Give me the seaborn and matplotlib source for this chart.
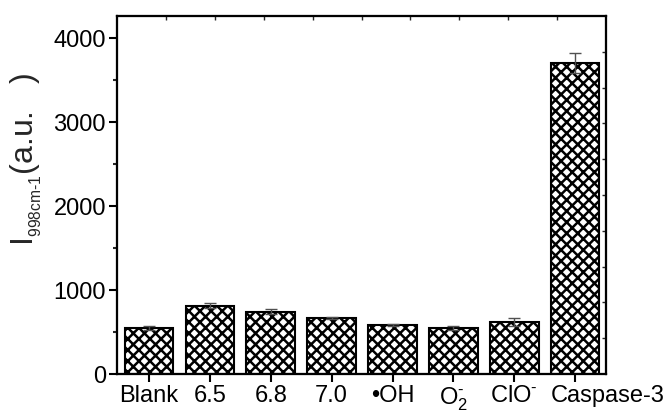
import numpy as np
import matplotlib
matplotlib.use("Agg")
import matplotlib.pyplot as plt
import matplotlib.transforms as mtransforms
import seaborn as sns

categories = ["Blank", "6.5", "6.8", "7.0", "\u2022OH", r"O$_\mathregular{2}^{\text{-}}$",
              r"ClO$^{\text{-}}$", "Caspase-3"]
intensity = [549, 816, 741, 667, 584, 549, 616, 3700]
errors = [27, 27, 28, 11, 12, 27, 47, 120]

sns.set_theme(style="ticks")
plt.rcParams["font.family"] = ["Liberation Sans", "DejaVu Sans"]
plt.rcParams["mathtext.fontset"] = "custom"
plt.rcParams["mathtext.rm"] = "Liberation Sans"
plt.rcParams["mathtext.it"] = "Liberation Sans:italic"
plt.rcParams["hatch.linewidth"] = 1.8
plt.rcParams["hatch.color"] = "black"

fig = plt.figure(figsize=(6.69, 4.12), dpi=100)
ax = fig.add_axes([0.175, 0.092, 0.731, 0.869])

x = np.arange(len(categories))
sns.barplot(x=x, y=intensity, ax=ax, color="white", edgecolor="black",
            linewidth=1.5, width=0.8, hatch="xxx")
ax.errorbar(x, intensity, yerr=errors, fmt="none", ecolor="#505050",
            elinewidth=1, capsize=4, capthick=1, zorder=5)

ax.set_xlim(-0.526, 7.51)
ax.set_ylim(0, 4262)
ax.set_yticks([0, 1000, 2000, 3000, 4000])
ax.set_yticks(np.arange(500, 4262, 1000), minor=True)
ax.set_xticks(x)
ax.set_xticklabels(categories)
ax.tick_params(axis="both", which="major", direction="out", length=6, width=1.5,
               labelsize=17, pad=2, colors="black")
ax.tick_params(axis="y", which="minor", direction="out", length=3, width=1.5)
# the last label sits to the right of its tick in the reference
lbls = ax.get_xticklabels()
lbls[-1].set_transform(lbls[-1].get_transform() +
                       mtransforms.ScaledTranslation(0.33, 0, fig.dpi_scale_trans))

ax.set_ylabel(r"I$_{_\mathregular{998cm\text{-}1}}$(a.u.   )", fontsize=23)
ax.yaxis.set_label_coords(-0.15, 0.6)
for s in ax.spines.values():
    s.set_visible(True)
    s.set_linewidth(1.5)
    s.set_color("black")

# mirrored frame ticks (top and right), no labels
axt = ax.twiny()
axt.set_xlim(0, 1)
axt.set_xticks(np.arange(0.1, 1.0, 0.1))
axt.tick_params(axis="x", direction="in", length=3, width=1, labeltop=False)
axr = ax.twinx()
axr.set_ylim(0, 1)
axr.set_yticks(np.arange(0.1, 1.0, 0.1))
axr.tick_params(axis="y", direction="in", length=3, width=1, labelright=False)
for a in (axt, axr):
    for s in a.spines.values():
        s.set_linewidth(1.5)
        s.set_color("black")

fig.savefig("out.png", dpi=100)
